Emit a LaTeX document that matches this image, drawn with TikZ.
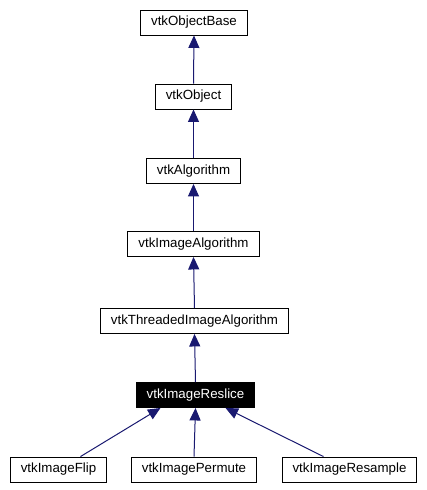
\documentclass[tikz,border=0pt]{standalone}
\usepackage{fontspec}
\setmainfont{Liberation Sans}
\usetikzlibrary{arrows.meta,positioning}
\definecolor{edgeblue}{HTML}{191970}
\tikzset{
    every node/.style={font=\fontsize{13.3}{16}\selectfont},
    class node/.style={shape=rectangle, draw=black, line width=0.9pt,
        inner xsep=10.5pt, inner ysep=0pt, minimum height=25pt,
        fill=white, text=black},
    this node/.style={class node, fill=black, text=white},
    edge/.style={color=edgeblue, line width=1pt}
}
\begin{document}
\begin{tikzpicture}[x=1pt,y=-1pt,<-,>={Triangle[length=12.5pt,width=11pt]}]
    \useasboundingbox (0,0) rectangle (426,490);
    \node[class node] (1) at (194,22.5) {vtkObjectBase};
    \node[class node] (2) at (193.5,96.5) {vtkObject};
    \node[class node] (3) at (193.5,171) {vtkAlgorithm};
    \node[class node] (4) at (193.5,244) {vtkImageAlgorithm};
    \node[class node] (5) at (194.5,321) {vtkThreadedImageAlgorithm};
    \node[this node] (6) at (195.5,395) {vtkImageReslice};
    \node[class node] (7) at (58.5,469.5) {vtkImageFlip};
    \node[class node] (8) at (194,469.5) {vtkImagePermute};
    \node[class node] (9) at (349.5,469.5) {vtkImageResample};

    \draw[edge] (1.south) -- (2.north);
    \draw[edge] (2.south) -- (3.north);
    \draw[edge] (3.south) -- (4.north);
    \draw[edge] (4.south) -- (5.north);
    \draw[edge] (5.south) -- (6.north);
    \draw[edge] ([xshift=-35pt]6.south) -- ([xshift=22pt]7.north);
    \draw[edge] (6.south) -- (8.north);
    \draw[edge] ([xshift=30pt]6.south) -- ([xshift=-26pt]9.north);
\end{tikzpicture}
\end{document}
